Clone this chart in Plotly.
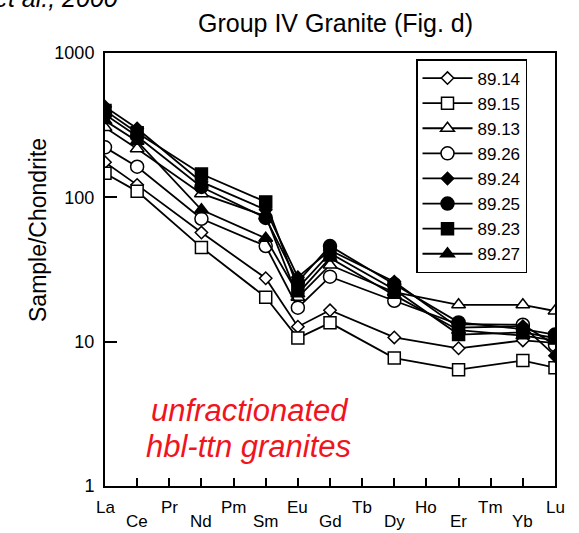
import plotly.graph_objects as go

# Chondrite-normalised REE pattern, Group IV granites
elements = ["La", "Ce", "Pr", "Nd", "Pm", "Sm", "Eu", "Gd",
            "Tb", "Dy", "Ho", "Er", "Tm", "Yb", "Lu"]
measured = ["La", "Ce", "Nd", "Sm", "Eu", "Gd", "Dy", "Er", "Yb", "Lu"]

sample_names = ["89.14", "89.15", "89.13", "89.26",
                "89.24", "89.25", "89.23", "89.27"]

s_89_14 = [175, 122, 57, 27.5, 12.7, 16.5, 10.7, 9.0, 10.2, 9.8]
s_89_15 = [147, 110, 45, 20.3, 10.6, 13.5, 7.7, 6.4, 7.4, 6.6]
s_89_13 = [305, 217, 106, 74, 20.3, 34, 22, 18.0, 18.0, 16.3]
s_89_26 = [222, 163, 71, 46, 17.2, 28.2, 19.2, 13.2, 13.1, 9.5]
s_89_24 = [425, 300, 128, 82, 28, 43, 26, 12.5, 12.8, 8.0]
s_89_25 = [375, 265, 118, 72, 26, 46, 25, 13.6, 12.2, 11.2]
s_89_23 = [400, 280, 145, 93, 23.5, 41, 23, 11.2, 11.6, 10.6]
s_89_27 = [340, 245, 82, 52, 21.5, 38, 21, 12.0, 11.0, 10.2]

series = [s_89_14, s_89_15, s_89_13, s_89_26,
          s_89_24, s_89_25, s_89_23, s_89_27]

symbols = ["diamond", "square", "triangle-up", "circle",
           "diamond", "circle", "square", "triangle-up"]
filled = [False, False, False, False, True, True, True, True]
sizes = {"diamond": 9.5, "square": 12, "triangle-up": 12, "circle": 13}

FONT = "Liberation Sans, Arial, Helvetica, sans-serif"

# plot-area geometry in pixels (used to place free text)
W, H = 579, 533
L, R, T, B = 105, 24, 53, 47
PW, PH = W - L - R, H - T - B


def px(x):
    return (x - L) / PW


def py(y):
    return (H - B - y) / PH


x_pos = [elements.index(e) for e in measured]

fig = go.Figure()
for name, vals, sym, fill in zip(sample_names, series, symbols, filled):
    fig.add_trace(go.Scatter(
        x=x_pos, y=vals, name=name, mode="lines+markers",
        line=dict(color="black", width=1.8),
        marker=dict(symbol=sym, size=sizes[sym],
                    color="black" if fill else "white",
                    line=dict(color="black", width=1.5)),
    ))

# element labels in two staggered rows
annotations = []
for i, el in enumerate(elements):
    annotations.append(dict(
        x=i, y=0, xref="x", yref="paper", text=el, showarrow=False,
        xanchor="center", yanchor="middle",
        yshift=-21 if i % 2 == 0 else -35,
        font=dict(family=FONT, size=17, color="black"),
    ))

annotations += [
    dict(x=px(335), y=py(23), xref="paper", yref="paper",
         text="Group IV Granite (Fig. d)", showarrow=False,
         xanchor="center", yanchor="middle",
         font=dict(family=FONT, size=25, color="black")),
    dict(x=px(120), y=py(-2), xref="paper", yref="paper",
         text="<i>et al., 2000</i>", showarrow=False,
         xanchor="right", yanchor="middle",
         font=dict(family=FONT, size=25, color="black")),
    dict(x=px(38), y=py(230), xref="paper", yref="paper",
         text="Sample/Chondrite", showarrow=False, textangle=-90,
         xanchor="center", yanchor="middle",
         font=dict(family=FONT, size=23, color="black")),
    dict(x=px(250), y=py(410), xref="paper", yref="paper",
         text="<i>unfractionated</i>", showarrow=False,
         xanchor="center", yanchor="middle",
         font=dict(family=FONT, size=31, color="#f0141e")),
    dict(x=px(248), y=py(446), xref="paper", yref="paper",
         text="<i>hbl-ttn granites</i>", showarrow=False,
         xanchor="center", yanchor="middle",
         font=dict(family=FONT, size=31, color="#f0141e")),
]

fig.update_layout(
    width=W, height=H,
    margin=dict(l=L, r=R, t=T, b=B),
    paper_bgcolor="white", plot_bgcolor="white",
    font=dict(family=FONT, color="black"),
    showlegend=True,
    legend=dict(
        x=px(416), y=py(59),
        xanchor="left", yanchor="top",
        bordercolor="black", borderwidth=1.5, bgcolor="white",
        font=dict(family=FONT, size=17, color="black"),
        itemwidth=50, traceorder="normal",
    ),
    xaxis=dict(
        range=[0, len(elements) - 1],
        tickvals=list(range(len(elements))),
        ticktext=[""] * len(elements),
        ticks="inside", ticklen=8, tickwidth=1.5, tickcolor="black",
        showline=True, linecolor="black", linewidth=2, mirror=True,
        showgrid=False, zeroline=False, showticklabels=False,
    ),
    yaxis=dict(
        type="log", range=[0, 3],
        tickvals=[1, 10, 100, 1000], ticktext=["1", "10", "100", "1000"],
        ticks="inside", ticklen=12, tickwidth=1.5, tickcolor="black",
        showline=True, linecolor="black", linewidth=2, mirror=True,
        showgrid=False, zeroline=False,
        tickfont=dict(family=FONT, size=18, color="black"),
        ticklabelstandoff=5,
    ),
    annotations=annotations,
)

fig.write_html("out.html")
